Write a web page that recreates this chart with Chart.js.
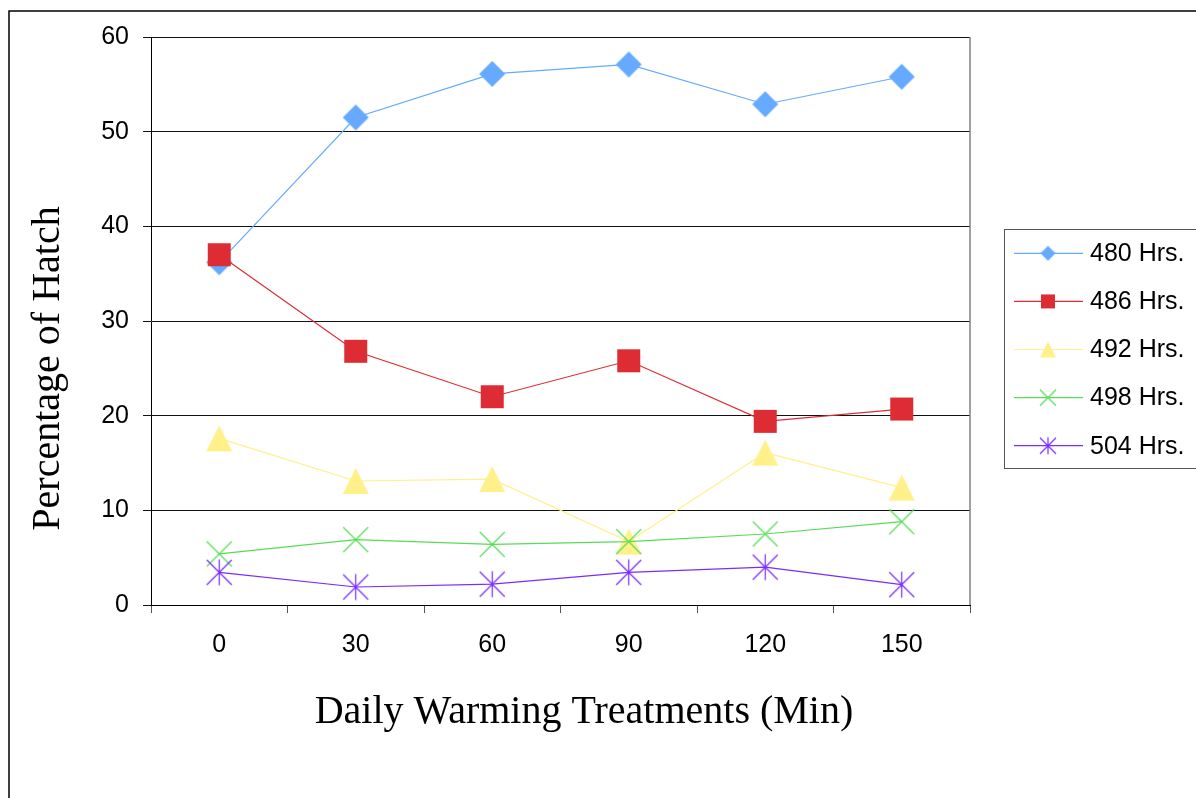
<!DOCTYPE html>
<html><head><meta charset="utf-8">
<script src="https://cdn.jsdelivr.net/npm/chart.js@4.4.1/dist/chart.umd.min.js"></script>
<style>html,body{margin:0;padding:0;background:#fff;overflow:hidden}#wrap{width:1196px;height:798px;position:relative}canvas{display:block}</style>
</head><body><div id="wrap"><canvas id="c" width="1196" height="798"></canvas></div>
<script>
const categories = ['0', '30', '60', '90', '120', '150'];
const seriesNames = ['480 Hrs.', '486 Hrs.', '492 Hrs.', '498 Hrs.', '504 Hrs.'];
const hrs480 = [36.2, 51.5, 56.1, 57.1, 52.9, 55.8];
const hrs486 = [37.0, 26.8, 22.0, 25.8, 19.4, 20.7];
const hrs492 = [17.6, 13.1, 13.3, 6.7, 16.1, 12.4];
const hrs498 = [5.4, 6.9, 6.4, 6.7, 7.5, 8.8];
const hrs504 = [3.45, 1.9, 2.2, 3.45, 4.0, 2.15];
const yMin = 0, yMax = 60, yStep = 10;
const xTitle = 'Daily Warming Treatments (Min)';
const yTitle = 'Percentage of Hatch';

const seriesValues = [hrs480, hrs486, hrs492, hrs498, hrs504];
const seriesColors = ['#66AAFF', '#DD2C33', '#FFF08A', '#55DD55', '#7A2BFF'];
const markerTypes = ['diamond', 'square', 'triangle', 'x', 'star'];
const markerHalf = [13, 11.5, 13, 12.5, 12.5];
const legendHalf = [7.5, 7, 8, 8, 8];

function makeMarker(type, color, h) {
  const pad = 3;
  const s = Math.ceil(2 * h + 2 * pad);
  const cv = document.createElement('canvas');
  cv.width = s; cv.height = s;
  const g = cv.getContext('2d');
  const c = s / 2;
  g.fillStyle = color; g.strokeStyle = color; g.lineWidth = 1.2;
  g.beginPath();
  if (type === 'diamond') {
    g.moveTo(c, c - h); g.lineTo(c + h, c); g.lineTo(c, c + h); g.lineTo(c - h, c); g.closePath(); g.fill();
  } else if (type === 'square') {
    g.rect(c - h, c - h, 2 * h, 2 * h); g.fill();
  } else if (type === 'triangle') {
    g.moveTo(c, c - h); g.lineTo(c + h, c + h); g.lineTo(c - h, c + h); g.closePath(); g.fill();
  } else if (type === 'x') {
    g.moveTo(c - h, c - h); g.lineTo(c + h, c + h); g.moveTo(c + h, c - h); g.lineTo(c - h, c + h); g.stroke();
  } else if (type === 'star') {
    g.moveTo(c - h, c - h); g.lineTo(c + h, c + h); g.moveTo(c + h, c - h); g.lineTo(c - h, c + h);
    g.moveTo(c, c - h - 0.5); g.lineTo(c, c + h + 0.5); g.stroke();
  }
  return cv;
}

const chartMarkers = markerTypes.map((t, i) => makeMarker(t, seriesColors[i], markerHalf[i]));
const legendMarkers = markerTypes.map((t, i) => makeMarker(t, seriesColors[i], legendHalf[i]));

const datasets = seriesNames.map((name, i) => ({
  label: name,
  data: seriesValues[i],
  borderColor: seriesColors[i],
  backgroundColor: seriesColors[i],
  borderWidth: 1.2,
  pointStyle: chartMarkers[i],
  pointRadius: 10,
  pointHoverRadius: 10,
  tension: 0,
  fill: false,
  order: seriesNames.length - 1 - i
}));

const framePlugin = {
  id: 'frame',
  afterDraw(chart) {
    const ctx = chart.ctx;
    const a = chart.chartArea;
    ctx.save();
    // outer frame
    ctx.strokeStyle = '#000'; ctx.lineWidth = 1.5;
    ctx.beginPath(); ctx.moveTo(9, 800); ctx.lineTo(9, 11); ctx.lineTo(1200, 11); ctx.stroke();
    // plot right border
    ctx.strokeStyle = '#808080'; ctx.lineWidth = 1.5;
    ctx.beginPath(); ctx.moveTo(a.right, a.top); ctx.lineTo(a.right, a.bottom); ctx.stroke();
    // axis titles
    ctx.fillStyle = '#000';
    ctx.font = '40px "Liberation Serif", "Times New Roman", serif';
    ctx.textAlign = 'center'; ctx.textBaseline = 'alphabetic';
    ctx.fillText(xTitle, 584, 723);
    ctx.save();
    ctx.translate(59, 368.5); ctx.rotate(-Math.PI / 2);
    ctx.fillText(yTitle, 0, 0);
    ctx.restore();
    // legend
    const lx = 1004.5, ly = 229.5, lh = 239;
    ctx.strokeStyle = '#555'; ctx.lineWidth = 1;
    ctx.strokeRect(lx, ly, 300, lh);
    ctx.font = '25px "Liberation Sans", Arial, sans-serif';
    ctx.textAlign = 'left'; ctx.textBaseline = 'middle';
    chart.data.datasets.forEach((ds, i) => {
      const y = 253.3 + i * 48.1;
      ctx.strokeStyle = ds.borderColor; ctx.lineWidth = 1.2;
      ctx.beginPath(); ctx.moveTo(1014, y); ctx.lineTo(1083, y); ctx.stroke();
      const m = legendMarkers[i];
      ctx.drawImage(m, 1048 - m.width / 2, y - m.height / 2);
      ctx.fillStyle = '#000';
      ctx.fillText(ds.label, 1090, y + 1);
    });
    ctx.restore();
  }
};

new Chart(document.getElementById('c'), {
  type: 'line',
  data: { labels: categories, datasets },
  options: {
    responsive: false,
    animation: false,
    events: [],
    layout: { padding: { top: 37, right: 226, bottom: 0, left: 0 } },
    plugins: { legend: { display: false }, tooltip: { enabled: false }, title: { display: false } },
    scales: {
      x: {
        type: 'category',
        offset: true,
        grid: { display: true, drawOnChartArea: false, offset: true, drawTicks: true, tickLength: 8, color: '#555', lineWidth: 1 },
        border: { display: true, color: '#000', width: 1 },
        ticks: { color: '#000', font: { family: '"Liberation Sans", Arial, sans-serif', size: 25 }, padding: 17, maxRotation: 0, autoSkip: false },
        afterFit(scale) { scale.height = 193; }
      },
      y: {
        min: yMin, max: yMax,
        ticks: { stepSize: yStep, color: '#000', font: { family: '"Liberation Sans", Arial, sans-serif', size: 25 }, padding: 14 },
        grid: { color: '#111', lineWidth: 1, drawTicks: true, tickLength: 8, tickColor: '#111' },
        border: { display: true, color: '#000', width: 1 },
        afterFit(scale) { scale.width = 151; }
      }
    }
  },
  plugins: [framePlugin]
});
</script>
</body></html>
